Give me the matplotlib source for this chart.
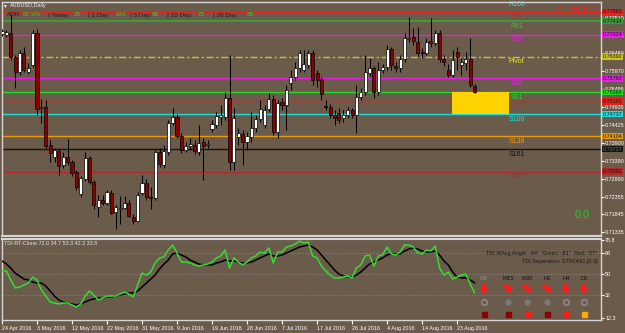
import matplotlib
matplotlib.use('Agg')
import matplotlib.pyplot as plt
import matplotlib.transforms as mtrans
from matplotlib.patches import Rectangle, FancyArrow
from matplotlib.lines import Line2D
import numpy as np

plt.rcParams['font.family'] = ['Liberation Sans', 'DejaVu Sans']

# AUDUSD daily bars, 24 Apr 2016 .. end of Aug 2016
opens = [0.77049, 0.77020, 0.77077, 0.76387, 0.75956, 0.76502, 0.75956, 0.76157, 0.77077, 0.74921,
         0.74950, 0.73857, 0.73512, 0.73685, 0.73282, 0.73512, 0.73369, 0.73081, 0.72449, 0.72880,
         0.73484, 0.72794, 0.72075, 0.72276, 0.72190, 0.72477, 0.71931, 0.72017, 0.72046, 0.72190,
         0.71759, 0.71672, 0.72477, 0.72765, 0.72362, 0.72334, 0.73656, 0.73282, 0.73656, 0.74490,
         0.74662, 0.74116, 0.73714, 0.73829, 0.73857, 0.73656, 0.73944, 0.73857, 0.74317, 0.74432,
         0.74662, 0.74662, 0.75209, 0.73369, 0.74087, 0.74174, 0.73944, 0.74087, 0.74346, 0.74605,
         0.74432, 0.74892, 0.75180, 0.74231, 0.75094, 0.75007, 0.75640, 0.75812, 0.76071, 0.76014,
         0.76157, 0.76502, 0.75927, 0.75755, 0.74979, 0.74950, 0.74720, 0.74777, 0.74634, 0.74720,
         0.74864, 0.74720, 0.75237, 0.75381, 0.75927, 0.76071, 0.75381, 0.76014, 0.76100, 0.76617,
         0.76129, 0.76071, 0.76330, 0.76905, 0.76962, 0.76819, 0.76531, 0.76502, 0.76847, 0.76790,
         0.77077, 0.76330, 0.76014, 0.75870, 0.76531, 0.76157, 0.76215, 0.76330, 0.75554]
highs = [0.77192, 0.77164, 0.77595, 0.76445, 0.76589, 0.76675, 0.76215, 0.77164, 0.77192, 0.75180,
         0.75151, 0.74001, 0.73771, 0.73771, 0.73656, 0.74030, 0.73426, 0.73139, 0.72966, 0.73656,
         0.73541, 0.72851, 0.72420, 0.72420, 0.72564, 0.72564, 0.72132, 0.72391, 0.72391, 0.72276,
         0.71845, 0.72506, 0.72995, 0.72880, 0.72650, 0.73714, 0.73771, 0.73857, 0.74576, 0.74921,
         0.74749, 0.74202, 0.73944, 0.74059, 0.74001, 0.74432, 0.74059, 0.74001, 0.74576, 0.74806,
         0.75007, 0.75381, 0.76445, 0.74921, 0.74346, 0.74289, 0.74231, 0.74806, 0.74720, 0.75151,
         0.75007, 0.75352, 0.75295, 0.75151, 0.75209, 0.75582, 0.76014, 0.76244, 0.76589, 0.76589,
         0.76589, 0.76589, 0.76014, 0.75812, 0.75151, 0.75036, 0.74864, 0.74921, 0.74864, 0.74950,
         0.74921, 0.75582, 0.75496, 0.76445, 0.76359, 0.76129, 0.76244, 0.76186, 0.76732, 0.76675,
         0.76244, 0.76445, 0.77077, 0.77537, 0.77221, 0.77250, 0.76646, 0.76934, 0.77509, 0.77164,
         0.77164, 0.76445, 0.76186, 0.76589, 0.76675, 0.76359, 0.76531, 0.76934, 0.75611]
lows = [0.76991, 0.76962, 0.76301, 0.75496, 0.75870, 0.75956, 0.75899, 0.76100, 0.74720, 0.74490,
        0.73771, 0.73369, 0.73369, 0.72995, 0.73196, 0.73282, 0.72966, 0.72564, 0.72362, 0.72822,
        0.72736, 0.71989, 0.71759, 0.72104, 0.72104, 0.71845, 0.71414, 0.71557, 0.71989, 0.71759,
        0.71557, 0.71615, 0.72420, 0.72276, 0.71989, 0.72276, 0.73225, 0.73196, 0.73570, 0.74432,
        0.74059, 0.73627, 0.73656, 0.73714, 0.73599, 0.73570, 0.72851, 0.73771, 0.74231, 0.74346,
        0.74432, 0.74576, 0.73139, 0.73139, 0.73857, 0.73282, 0.73714, 0.73944, 0.74231, 0.74519,
        0.74346, 0.74806, 0.74145, 0.74059, 0.74864, 0.74289, 0.75439, 0.75726, 0.75956, 0.75956,
        0.76071, 0.75582, 0.75525, 0.75151, 0.74864, 0.74634, 0.74432, 0.74490, 0.74519, 0.74634,
        0.74634, 0.74202, 0.75151, 0.75295, 0.75841, 0.75209, 0.75295, 0.75927, 0.76014, 0.76014,
        0.75956, 0.75956, 0.76244, 0.76819, 0.76732, 0.76416, 0.76359, 0.76445, 0.76675, 0.76732,
        0.76244, 0.76129, 0.75812, 0.75812, 0.76014, 0.75870, 0.76014, 0.75525, 0.75352]
closes = [0.77135, 0.77106, 0.76387, 0.75956, 0.76502, 0.76014, 0.76071, 0.77077, 0.74892, 0.74950,
          0.73829, 0.73627, 0.73714, 0.73254, 0.73512, 0.73369, 0.73052, 0.72650, 0.72909, 0.73484,
          0.72794, 0.72104, 0.72276, 0.72190, 0.72506, 0.71902, 0.72075, 0.72046, 0.72190, 0.71816,
          0.71672, 0.72420, 0.72765, 0.72362, 0.72334, 0.73656, 0.73311, 0.73685, 0.74490, 0.74662,
          0.74116, 0.73714, 0.73829, 0.73886, 0.73685, 0.73915, 0.73829, 0.73886, 0.74461, 0.74691,
          0.74720, 0.75209, 0.73369, 0.74634, 0.74202, 0.73944, 0.74116, 0.74346, 0.74605, 0.74892,
          0.74864, 0.75180, 0.74231, 0.75065, 0.75007, 0.75439, 0.75812, 0.76071, 0.76502, 0.76186,
          0.76502, 0.75726, 0.75726, 0.75324, 0.74950, 0.74720, 0.74634, 0.74576, 0.74720, 0.74864,
          0.74720, 0.75237, 0.75381, 0.75956, 0.76071, 0.75381, 0.76014, 0.76100, 0.76617, 0.76157,
          0.76071, 0.76330, 0.76934, 0.76934, 0.76847, 0.76502, 0.76502, 0.76819, 0.76790, 0.77077,
          0.76330, 0.76244, 0.75870, 0.76301, 0.76387, 0.76244, 0.76330, 0.75582, 0.75372]

date_labels = ['24 Apr 2016', '3 May 2016', '12 May 2016', '22 May 2016', '31 May 2016',
               '9 Jun 2016', '19 Jun 2016', '28 Jun 2016', '7 Jul 2016', '17 Jul 2016',
               '26 Jul 2016', '4 Aug 2016', '14 Aug 2016', '23 Aug 2016']
date_every = 8

# fibonacci pivot levels
level_names = ['R100', 'R78', 'R61', 'R38', 'Pivot', 'S38', 'S61', 'S78', 'S100', 'S138', 'S161', 'S200']
level_values = [0.78047, 0.77683, 0.77414, 0.77024, 0.76392, 0.75760, 0.75369, 0.75101,
                0.74737, 0.74104, 0.73727, 0.73082]
level_colors = ['#30d8d8', '#e8201c', '#3c9c3c', '#e61ee6', '#c8c424', '#e61ee6', '#22dc22',
                '#e8201c', '#22dcdc', '#e89a12', '#141414', '#b42828']
level_text_colors = ['#40e0e0', '#e8201c', '#38c438', '#e61ee6', '#f2ee2a', '#e61ee6', '#22dc22',
                     '#e8201c', '#22e0e0', '#e89a12', '#101010', '#b42828']
price_ticks = [0.77510, 0.76995, 0.76480, 0.75970, 0.75455, 0.74935, 0.74425, 0.73900,
               0.73390, 0.72880, 0.72355, 0.71845, 0.71335]

# TDI indicator
tdi_green = [52.4, 52.4, 44.7, 37.9, 38.7, 40.4, 42.1, 47.2, 44.7, 36.2,
             31.0, 25.9, 25.1, 24.2, 25.1, 25.1, 23.4, 21.6, 24.2, 31.0,
             35.3, 31.9, 27.6, 29.3, 31.0, 31.0, 31.0, 32.7, 34.4, 32.7,
             30.2, 40.4, 50.6, 48.9, 51.5, 59.2, 63.5, 64.3, 70.3, 74.5,
             67.7, 60.0, 60.0, 59.2, 57.5, 56.6, 57.5, 58.3, 60.0, 63.5,
             65.2, 70.3, 54.9, 63.5, 60.0, 57.5, 60.0, 63.5, 65.2, 68.6,
             67.7, 72.0, 59.2, 68.6, 68.6, 72.8, 73.7, 75.4, 77.9, 76.2,
             77.1, 65.2, 63.5, 56.6, 52.4, 48.9, 46.4, 46.4, 47.2, 48.1,
             46.4, 54.9, 57.5, 65.2, 66.0, 56.6, 65.2, 66.0, 72.8, 66.9,
             66.0, 68.6, 74.5, 74.5, 72.8, 67.7, 66.9, 70.3, 69.4, 73.7,
             54.9, 48.9, 51.5, 45.5, 47.2, 48.9, 49.8, 41.3, 33.8]
tdi_signal = [60.9, 58.3, 54.9, 50.6, 48.1, 45.5, 44.7, 43.0, 42.1, 42.1,
              39.6, 35.3, 31.0, 27.6, 25.9, 25.1, 24.2, 23.4, 24.2, 25.9,
              27.6, 28.5, 29.3, 29.3, 30.2, 30.2, 31.0, 31.9, 32.7, 33.6,
              33.6, 35.3, 38.7, 42.1, 45.5, 48.9, 54.1, 58.3, 61.7, 66.9,
              67.7, 66.0, 64.3, 61.7, 60.0, 58.3, 57.5, 57.5, 57.5, 59.2,
              60.0, 61.7, 60.9, 60.9, 60.0, 59.2, 59.2, 60.0, 61.7, 63.5,
              65.2, 66.9, 65.2, 65.2, 66.0, 67.7, 69.4, 71.1, 72.8, 73.7,
              74.5, 72.8, 70.3, 66.0, 61.7, 57.5, 53.2, 49.8, 48.1, 47.2,
              47.2, 48.9, 51.5, 54.9, 58.3, 60.0, 61.7, 63.5, 66.0, 66.9,
              66.9, 66.9, 69.4, 71.1, 72.0, 71.1, 69.4, 68.6, 68.6, 69.4,
              66.0, 60.9, 57.5, 51.5, 47.2, 46.4, 46.4, 44.7, 42.3]
tdi_levels = [32, 50, 68]
tdi_ticks = [12.3, 32, 50, 68, 78.8]
tdi_header = 'TDI-RT-Clone 72.0 34.7 53.3 42.3 33.8'
tdi_angle_txt = 'TDI WAvg Angle: -64°  Green: -81°  Red: -57°'
tdi_sep_txt = 'TDI Seperation: STRONG [6.3]'

tf_names = ['M5', 'M15', 'M30', 'H1', 'H4', 'D1']
tf_arrows = ['down', 'downright', 'downright', 'downright', 'down', 'down']
tf_dots = ['ring', 'dot', 'dot', 'dot', 'ring', 'ring']
tf_boxes = ['#8b0000', '#8b0000', '#ff1a1a', '#8b0000', '#ff1a1a', '#ffaa00']

adr_labels = ['ADR:', '| Today:', '| 1 Day:', '| 5 Day:', '| 10 Day:', '| 20 Day:']
adr_values = ['37.3%', '25', '141', '68', '72', '65']

# ---- layout (pixels of the 625x333 screenshot)
W, H = 625, 333
BG = '#6b5b4b'
FRAME = '#d6d6d6'
def fx(px): return px / W
def fy(py): return 1 - py / H

fig = plt.figure(figsize=(W / 100, H / 100), dpi=100, facecolor=BG)
ax = fig.add_axes([fx(2), fy(236), fx(601) - fx(2), fy(2) - fy(236)], facecolor=BG)
ax2 = fig.add_axes([fx(2), fy(320), fx(601) - fx(2), fy(239) - fy(320)], facecolor=BG, sharex=ax)

idx = np.arange(len(opens))
o = np.array(opens); c = np.array(closes)
up = c >= o
lo = np.minimum(o, c)
hgt = np.maximum(np.abs(c - o), 0.00005)

# levels
for name, v, col in zip(level_names, level_values, level_colors):
    lw = 1.5 if name == 'R61' else 1.0
    ls = (0, (5, 2, 1.5, 2)) if name == 'Pivot' else '-'
    ax.axhline(v, color=col, lw=lw, ls=ls, zorder=2)

# yellow zone between S61 and S100
zone_start, zone_end = 102.8, 115.8
s61 = level_values[level_names.index('S61')]
s100 = level_values[level_names.index('S100')]
ax.add_patch(Rectangle((zone_start, s100), zone_end - zone_start, s61 - s100,
                       facecolor='#ffd200', edgecolor='none', zorder=2.5))

# candles
ax.vlines(idx, lows, highs, color='black', lw=0.75, zorder=3)
ax.bar(idx[up], hgt[up], bottom=lo[up], width=0.7, color='white', edgecolor='black', lw=0.5, zorder=4)
ax.bar(idx[~up], hgt[~up], bottom=lo[~up], width=0.7, color='#8b0000', edgecolor='black', lw=0.5, zorder=4)

xmin, xmax = 0.0, 136.9
ax.set_xlim(xmin, xmax)
ax.set_ylim(0.71226, 0.77961)

# level names
for name, v, col in zip(level_names, level_values, level_text_colors):
    ax.annotate(name, (117.6, v), xytext=(0, -5), textcoords='offset pixels',
                ha='center', va='center', fontsize=5, color=col, zorder=6, annotation_clip=False)

# right price scale
ax.yaxis.tick_right()
ax.set_yticks(price_ticks)
ax.set_yticklabels(['%.5f' % t for t in price_ticks])
ax.tick_params(axis='y', colors='white', labelsize=3.9, length=2, pad=1)
ax.tick_params(axis='x', bottom=False, labelbottom=False)
trans = mtrans.blended_transform_factory(ax.transAxes, ax.transData)
for name, v, col in zip(level_names, level_values, level_colors):
    if v > ax.get_ylim()[1]:
        continue
    tc = '#707070' if name == 'S161' else '#141414'
    ax.text(1.003, v, '%.5f' % v, transform=trans, ha='left', va='center', fontsize=3.9,
            color=tc, clip_on=False, zorder=7,
            bbox=dict(boxstyle='square,pad=0.12', fc=col, ec='none'))

for ax_ in (ax, ax2):
    for s in ax_.spines.values():
        s.set_color(FRAME)
        s.set_linewidth(1)
ax.spines['bottom'].set_linewidth(1.5)
ax2.spines['top'].set_linewidth(1.5)

# header texts
fig.text(fx(600), fy(11), '%.5f' % closes[-1], ha='right', va='center', color='#ff1a1a', fontsize=8.4,
         zorder=10)
fig.text(fx(4), fy(6), '\u25be', ha='left', va='center', color='white', fontsize=4)
fig.text(fx(10), fy(6), 'AUDUSD,Daily', ha='left', va='center', color='#eeeeee', fontsize=4)
label_x = [7, 48, 88, 130, 167, 213]
value_x = [23, 74, 115, 152, 198, 247]
for lab, val, lx, vx in zip(adr_labels, adr_values, label_x, value_x):
    fig.text(fx(lx), fy(15), lab, ha='left', va='center', color='#1e1e1e', fontsize=4.6)
    fig.text(fx(vx), fy(15), val, ha='left', va='center', color='#22dd22', fontsize=4.6)
fig.text(fx(590), fy(215), '0.0', ha='right', va='center', color='#22d022', fontsize=7.8)

# TDI pane
for lv in tdi_levels:
    ax2.axhline(lv, color='#8c8c8c', lw=0.7, ls=(0, (1, 2)), zorder=1)
ax2.plot(idx, tdi_signal, color='black', lw=1.1, zorder=3)
ax2.plot(idx, tdi_green, color='#33dd33', lw=1.1, zorder=4)
ax2.set_ylim(10.56, 79.65)
ax2.yaxis.tick_right()
ax2.set_yticks(tdi_ticks)
ax2.set_yticklabels(['%g' % t for t in tdi_ticks])
ax2.tick_params(axis='y', colors='white', labelsize=3.9, length=2, pad=1)
date_pos = [k * date_every for k in range(len(date_labels))]
ax2.set_xticks(date_pos)
ax2.set_xticklabels(date_labels, ha='left')
ax2.tick_params(axis='x', colors='white', labelsize=3.9, length=3, pad=1)
ax2.set_xlim(xmin, xmax)
ax2.text(0.004, 0.97, tdi_header, transform=ax2.transAxes, ha='left', va='top',
         color='#e4e4e4', fontsize=3.9)
fig.text(fx(597), fy(254), tdi_angle_txt, ha='right', va='center', color='#1a1a1a', fontsize=4)
fig.text(fx(597), fy(262), tdi_sep_txt, ha='right', va='center', color='#1a1a1a', fontsize=4)

# multi-timeframe status block
tf_x = [484, 508, 527, 547, 566, 584]
pix = mtrans.IdentityTransform()
for k, name in enumerate(tf_names):
    x = tf_x[k]
    fig.text(fx(x), fy(278), name, ha='center', va='center',
             color='#8a8a8a' if name == 'M5' else '#141414', fontsize=4.2)
    if tf_arrows[k] == 'down':
        arr = FancyArrow(x, H - 284, 0, -9, width=2.2, head_width=6.5, head_length=4.5,
                         length_includes_head=True, color='#ff1a1a', transform=pix)
    else:
        arr = FancyArrow(x - 3.5, H - 285, 7, -7, width=2.2, head_width=6.5, head_length=4.5,
                         length_includes_head=True, color='#ff1a1a', transform=pix)
    fig.add_artist(arr)
    if tf_dots[k] == 'ring':
        fig.add_artist(Line2D([fx(x)], [fy(302)], marker='o', ms=4, mfc='none', mec='#8a8a8a',
                              mew=1.2, ls='none', transform=fig.transFigure))
    else:
        fig.add_artist(Line2D([fx(x)], [fy(302)], marker='o', ms=3.5, mfc='#7a7a7a', mec='#7a7a7a',
                              ls='none', transform=fig.transFigure))
    fig.add_artist(Line2D([fx(x)], [fy(314)], marker='s', ms=3.6, mfc=tf_boxes[k], mec=tf_boxes[k],
                          ls='none', transform=fig.transFigure))

fig.savefig('out.png', dpi=100, facecolor=BG)
